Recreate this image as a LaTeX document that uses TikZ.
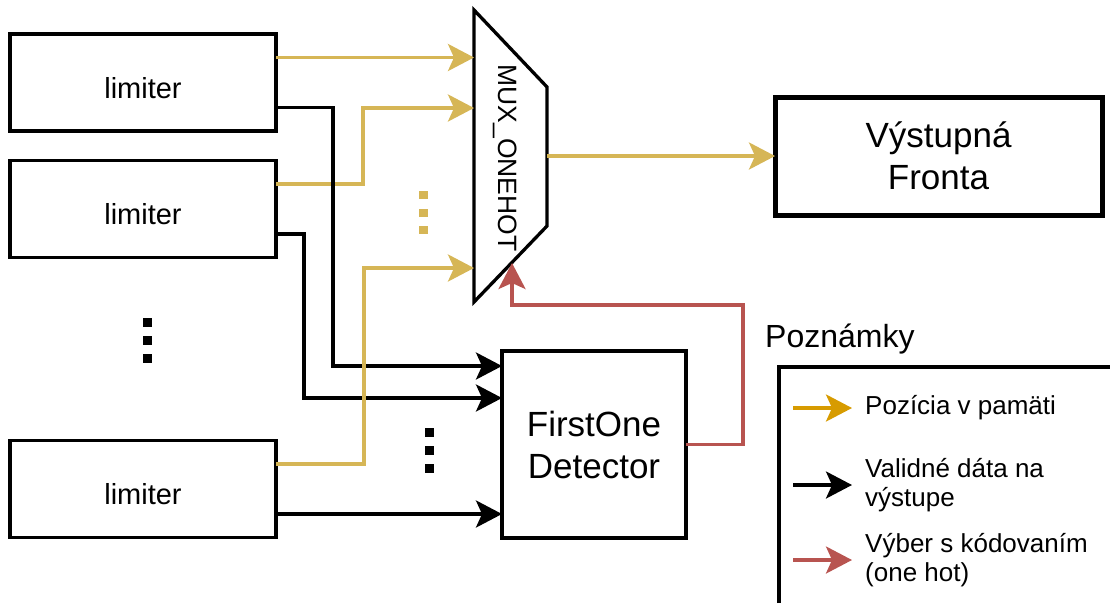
\documentclass[tikz,border=0pt]{standalone}
\usepackage{fontspec}
\setmainfont{Liberation Sans}
\usetikzlibrary{arrows.meta, calc, positioning}
\definecolor{gelb}{HTML}{D6B656}
\definecolor{legorange}{HTML}{D79B00}
\definecolor{rot}{HTML}{B85450}

\begin{document}
\begin{tikzpicture}[x=1pt, y=-1pt,
			>={Stealth[length=26pt, width=27pt, inset=6pt]},   %Pfeilspitzen
			block/.style={draw, line width=3.3pt, outer sep=0pt, inner sep=0pt, align=center},
			limiter/.style={block, minimum width=266pt, minimum height=97pt, text height=31pt, text depth=0pt, font=\fontsize{29}{35}\selectfont},
			signal/.style={line width=3.3pt},
			legtext/.style={inner sep=0pt, anchor=west, align=left, font=\fontsize{26}{29}\selectfont}]
			\useasboundingbox (0,0) rectangle (1110,603);
			% Bloecke
			\node[limiter] (lim1) at (143,82.5) {limiter};
			\node[limiter] (lim2) at (143,209) {limiter};
			\node[limiter] (lim3) at (143,489) {limiter};
			\node[block, minimum width=184pt, minimum height=187pt, font=\fontsize{35}{42}\selectfont] (first) at (594,444.5) {FirstOne\\Detector};
			\node[block, line width=5pt, minimum width=327pt, minimum height=118pt, text depth=0pt, font=\fontsize{35}{42}\selectfont] (fronta) at (938.5,156) {Výstupná\\Fronta};
			% Multiplexer
			\draw[signal, line join=miter] (474,10) -- (547,87) -- (547,226) -- (474,302) -- cycle;
			\node[rotate=-90, inner sep=0pt, font=\fontsize{26.5}{30}\selectfont] (muxtext) at (505,158) {MUX\_ONEHOT};
			\coordinate (mi1) at (474,57.5);
			\coordinate (mi2) at (474,108);
			\coordinate (mi3) at (474,268);
			\coordinate (mo) at (547,156);
			\coordinate (ms) at (512,263);
			% Ausgaenge der Limiter
			\foreach \i in {1,2,3} {
				\coordinate (g\i) at ([yshift=25pt]lim\i.east);
				\coordinate (b\i) at ([yshift=-25pt]lim\i.east);
			}
			\coordinate (fi1) at ([yshift=78.5pt]first.west);
			\coordinate (fi2) at ([yshift=46.5pt]first.west);
			% Verbindungen
			\draw[->, signal, gelb] (g1) -- (mi1);
			\draw[->, signal, gelb] (g2) -- ++(87,0) |- (mi2);
			\draw[->, signal] (b1) -- ++(57,0) |- (fi1);
			\draw[->, signal] (b2) -- ++(28,0) |- (fi2);
			\draw[->, signal, gelb] (g3) -- ++(88,0) |- (mi3);
			\draw[->, signal] (b3) -- (b3 -| first.west);
			\draw[->, signal, gelb] (mo) -- (fronta.west);
			\draw[->, signal, rot] (first.east) -- ++(57,0) |- ([yshift=-42pt]ms) -- (ms);
			% Punkte
			\foreach \y in {322.5,340.5,358.5} \fill (143,\y-4.5) rectangle ++(9,9);
			\foreach \y in {432.5,450.5,468} \fill (424.5,\y-4.5) rectangle ++(9,9);
			\foreach \y in {195,213,230} \fill[gelb] (419.3,\y-4.3) rectangle ++(8.6,8.6);
			% Legende
			\node[legtext, font=\fontsize{32}{36}\selectfont] (notes) at (765,339) {Poznámky};
			\draw[signal] (779,603) |- (1110,367);
			\node[legtext] (leg1) at (865,408) {Pozícia v pamäti};
			\node[legtext] (leg2) at (865,485) {Validné dáta na\\výstupe};
			\node[legtext] (leg3) at (865,560) {Výber s kódovaním\\(one hot)};
			\draw[->, signal, legorange] ([xshift=-72pt]leg1.west) -- ([xshift=-13pt]leg1.west);
			\draw[->, signal] ([xshift=-72pt]leg2.west) -- ([xshift=-13pt]leg2.west);
			\draw[->, signal, rot] ([xshift=-72pt]leg3.west) -- ([xshift=-13pt]leg3.west);
		\end{tikzpicture}
\end{document}
